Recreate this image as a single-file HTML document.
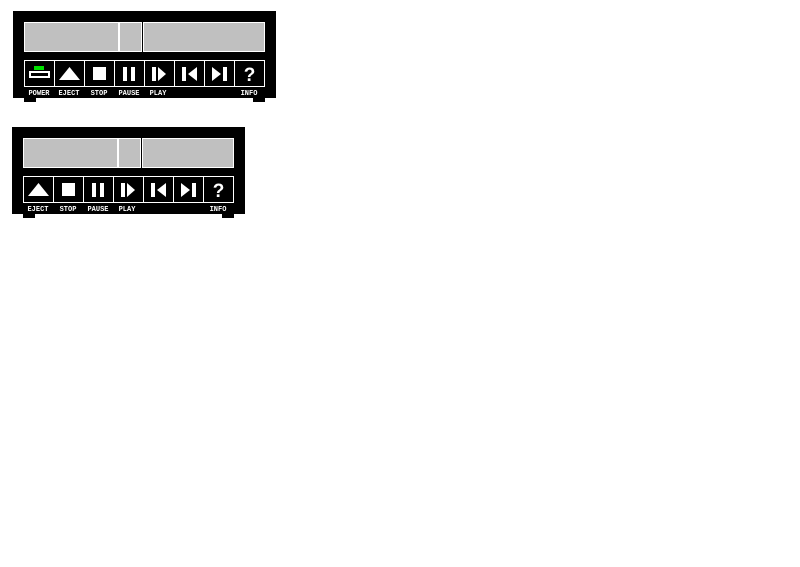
<!DOCTYPE html>
<html><head><style>body{margin:0;background:#fff;width:800px;height:562px;overflow:hidden}</style></head><body>
<svg width="800" height="562" xmlns="http://www.w3.org/2000/svg" font-family="Liberation Mono, monospace" font-weight="bold" font-size="7" fill="#fff">
<g>
<rect x="13" y="11" width="263" height="87" fill="#000"/>
<rect x="24" y="97" width="12" height="5" fill="#000"/>
<rect x="253" y="97" width="12" height="5" fill="#000"/>
<g fill="#c0c0c0" stroke="#fff" stroke-width="1">
<rect x="24.5" y="22.5" width="94" height="29"/>
<rect x="119.5" y="22.5" width="22" height="29"/>
<rect x="143.5" y="22.5" width="121" height="29"/>
</g>
<g fill="none" stroke="#fff">
<rect x="24.5" y="60.5" width="240" height="26"/>
<path d="M54.5 60v27M84.5 60v27M114.5 60v27M144.5 60v27M174.5 60v27M204.5 60v27M234.5 60v27"/>
</g>
<rect x="34" y="66" width="10" height="4" fill="#00e000"/>
<rect x="30" y="72" width="19" height="5" fill="none" stroke="#fff" stroke-width="2"/>
<polygon points="59,80 80,80 69.5,67"/>
<rect x="93" y="67" width="13" height="13"/>
<rect x="123" y="67" width="4" height="14"/><rect x="131" y="67" width="4" height="14"/>
<rect x="152" y="67" width="4" height="14"/><polygon points="158,67 158,81 166,74"/>
<rect x="182" y="67" width="4" height="14"/><polygon points="197,67 197,81 188,74"/>
<polygon points="212,67 212,81 221,74"/><rect x="223" y="67" width="4" height="14"/>
<text x="249.5" y="81" font-size="19" text-anchor="middle" font-family="Liberation Sans, sans-serif">?</text>
<g text-anchor="middle">
<text x="39" y="95">POWER</text><text x="69" y="95">EJECT</text><text x="99" y="95">STOP</text><text x="129" y="95">PAUSE</text><text x="158" y="95">PLAY</text><text x="249" y="95">INFO</text>
</g>
</g>
<g>
<rect x="12" y="127" width="233" height="87" fill="#000"/>
<rect x="23" y="213" width="12" height="5" fill="#000"/>
<rect x="222" y="213" width="12" height="5" fill="#000"/>
<g fill="#c0c0c0" stroke="#fff" stroke-width="1">
<rect x="23.5" y="138.5" width="94" height="29"/>
<rect x="118.5" y="138.5" width="22" height="29"/>
<rect x="142.5" y="138.5" width="91" height="29"/>
</g>
<g fill="none" stroke="#fff">
<rect x="23.5" y="176.5" width="210" height="26"/>
<path d="M53.5 176v27M83.5 176v27M113.5 176v27M143.5 176v27M173.5 176v27M203.5 176v27"/>
</g>
<polygon points="28,196 49,196 38.5,183"/>
<rect x="62" y="183" width="13" height="13"/>
<rect x="92" y="183" width="4" height="14"/><rect x="100" y="183" width="4" height="14"/>
<rect x="121" y="183" width="4" height="14"/><polygon points="127,183 127,197 135,190"/>
<rect x="151" y="183" width="4" height="14"/><polygon points="166,183 166,197 157,190"/>
<polygon points="181,183 181,197 190,190"/><rect x="192" y="183" width="4" height="14"/>
<text x="218.5" y="197" font-size="19" text-anchor="middle" font-family="Liberation Sans, sans-serif">?</text>
<g text-anchor="middle">
<text x="38" y="211">EJECT</text><text x="68" y="211">STOP</text><text x="98" y="211">PAUSE</text><text x="127" y="211">PLAY</text><text x="218" y="211">INFO</text>
</g>
</g>
</svg>
</body></html>
